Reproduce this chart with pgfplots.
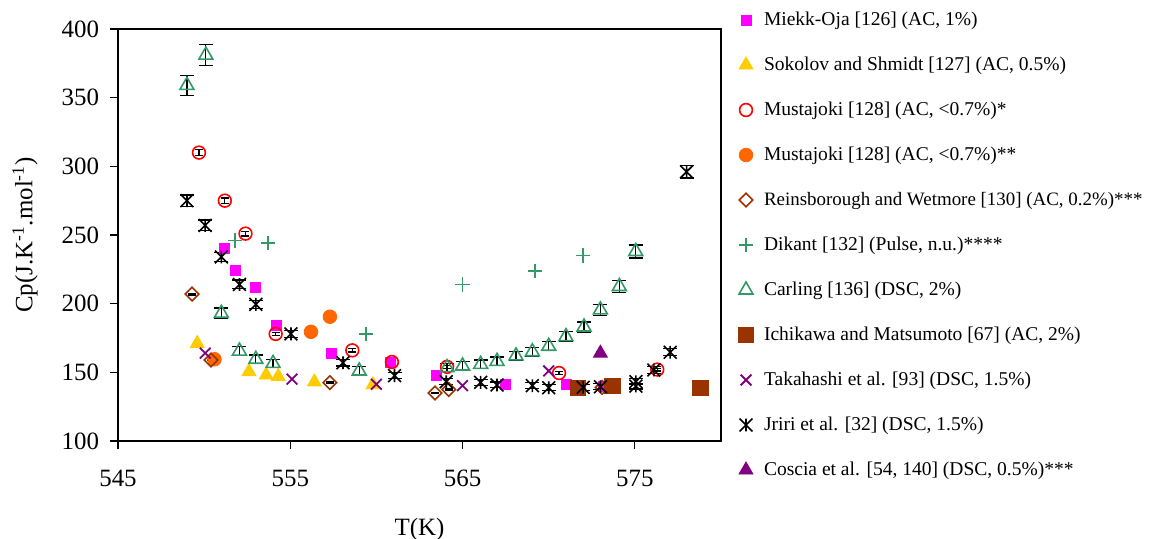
\documentclass[border=0pt]{standalone}
\usepackage{pgfplots}
\pgfplotsset{compat=1.18}
\usepackage{fontspec}
\setmainfont{Liberation Serif}
\definecolor{cMag}{HTML}{FF00FF}
\definecolor{cYel}{HTML}{FFCC00}
\definecolor{cRed}{HTML}{FF0000}
\definecolor{cOra}{HTML}{FF6600}
\definecolor{cBrn}{HTML}{993300}
\definecolor{cGrn}{HTML}{339966}
\definecolor{cPur}{HTML}{800080}
\pgfdeclareplotmark{xvert}{%
  \pgfpathmoveto{\pgfqpoint{-\pgfplotmarksize}{-\pgfplotmarksize}}%
  \pgfpathlineto{\pgfqpoint{\pgfplotmarksize}{\pgfplotmarksize}}%
  \pgfpathmoveto{\pgfqpoint{-\pgfplotmarksize}{\pgfplotmarksize}}%
  \pgfpathlineto{\pgfqpoint{\pgfplotmarksize}{-\pgfplotmarksize}}%
  \pgfpathmoveto{\pgfqpoint{0pt}{-\pgfplotmarksize}}%
  \pgfpathlineto{\pgfqpoint{0pt}{\pgfplotmarksize}}%
  \pgfusepathqstroke}
\pgfplotsset{eb/.style 2 args={error bars/.cd, y dir=both, y fixed relative=#1,
  error bar style={black,line width=0.6pt},
  error mark options={rotate=90,black,mark size=#2,line width=0.6pt}}}
\begin{document}
\begin{tikzpicture}
\path[use as bounding box] (-59bp,-49bp) rectangle (520bp,220.5bp);
\begin{axis}[
  scale only axis, width=301.5bp, height=206bp,
  at={(0,0)}, anchor=south west,
  xmin=545, xmax=580, ymin=100, ymax=400,
  xtick={545,555,565,575}, ytick={100,150,200,250,300,350,400},
  tick align=outside, xtick pos=bottom, ytick pos=left,
  major tick length=4bp,
  tick style={black, line width=0.6pt},
  axis line style={line width=0.8pt},
  clip=false,
  /pgf/number format/assume math mode=true,
  ticklabel style={font=\fontsize{12.5}{14}\selectfont},
  xticklabel style={yshift=-7bp},
  yticklabel style={xshift=-2bp},
  xlabel={T(K)}, ylabel={Cp(J.K\textsuperscript{-1}.mol\textsuperscript{-1})},
  every axis x label/.style={at={(axis description cs:0.5,0)}, yshift=-44.5bp, anchor=center, font=\fontsize{12.5}{14}\selectfont},
  every axis y label/.style={at={(axis description cs:0,0.5)}, xshift=-46.5bp, rotate=90, anchor=center, font=\fontsize{12.5}{14}\selectfont},
  legend cell align=left,
  legend style={draw=none, fill=none, inner sep=0pt, outer sep=0pt,
    at={(axis description cs:1,1)}, anchor=north west, xshift=6.5bp, yshift=9bp,
    font=\fontsize{9.8}{12}\selectfont,
    nodes={inner sep=0pt, text height=7bp, text depth=2bp},
    row sep=13.5bp, column sep=3bp},
  every axis plot post/.append style={legend image code/.code={\path[draw=none,fill=none] (0bp,-3bp) rectangle (12bp,3bp); \draw[##1] plot coordinates {(6bp,0bp)};}},
]
% Miekk-Oja
\addplot[only marks, mark=square*, mark size=2.5bp, color=cMag, eb={0.01}{2bp}] coordinates {
(551.2,240) (551.8,224) (553.0,212) (554.2,184) (557.4,164) (560.8,157) (563.5,148) (567.5,141) (571.0,141) (573.2,140)};
\addlegendentry{Miekk-Oja [126] (AC, 1\%)}
% Sokolov
\addplot[only marks, mark=triangle*, mark size=4bp, color=cYel, eb={0.005}{2bp}] coordinates {
(549.6,171) (552.6,150.5) (553.6,148) (554.3,147) (556.4,143) (559.8,141)};
\addlegendentry{Sokolov and Shmidt [127] (AC, 0.5\%)}
% Mustajoki *
\addplot[only marks, mark=o, mark size=3.2bp, color=cRed, mark options={line width=0.8pt}, eb={0.007}{2bp}] coordinates {
(549.7,310) (551.2,275) (552.4,251) (554.15,178) (558.6,166) (560.9,157.5) (564.1,154) (570.6,149.5) (576.3,152)};
\addlegendentry{Mustajoki [128] (AC, <0.7\%)*}
% Mustajoki **
\addplot[only marks, mark=*, mark size=3.4bp, color=cOra, eb={0.007}{2bp}] coordinates {
(550.6,159.5) (556.2,179.5) (557.3,190.5)};
\addlegendentry{Mustajoki [128] (AC, <0.7\%)**}
% Reinsborough
\addplot[only marks, mark=square, mark size=2.4bp, color=cBrn, mark options={line width=0.8pt, rotate=45}, eb={0.003}{2bp}] coordinates {
(549.3,207) (550.4,159) (557.3,142.5) (563.4,135) (564.2,137.5) (573.1,139)};
\addlegendentry{{\fontsize{9.5}{12}\selectfont Reinsborough and Wetmore [130] (AC, 0.2\%)***}}
% Dikant
\addplot[only marks, mark=+, mark size=3.6bp, color=cGrn, mark options={line width=0.9pt}] coordinates {
(551.8,246) (553.7,244) (559.4,178) (565.0,214) (569.2,224) (572.0,235)};
\addlegendentry{Dikant [132] (Pulse, n.u.)****}
% Carling
\addplot[only marks, mark=triangle, mark size=4bp, color=cGrn, mark options={line width=0.8pt}, eb={0.02}{3.5bp}] coordinates {
(549.0,359) (550.1,381) (551.0,193) (552.05,165.5) (553.0,159.5) (554.0,156.5) (559.0,151) (564.1,153.4) (565.0,154.6) (566.05,155.8) (567.0,158) (568.1,162) (569.05,165) (570.0,169) (571.0,176) (572.05,183) (573.0,195.5) (574.1,212.5) (575.05,238)};
\addlegendentry{Carling [136] (DSC, 2\%)}
% Ichikawa
\addplot[only marks, mark=square*, mark size=3.8bp, color=cBrn] coordinates {
(571.7,138.4) (573.7,140.3) (578.8,138.4)};
\addlegendentry{Ichikawa and Matsumoto [67] (AC, 2\%)}
% Takahashi
\addplot[only marks, mark=x, mark size=3.8bp, color=cPur, mark options={line width=0.9pt}] coordinates {
(550.06,164) (555.1,145) (560.0,141.3) (565.0,140.3) (570.0,151)};
\addlegendentry{Takahashi et al. [93] (DSC, 1.5\%)}
% Jriri
\addplot[only marks, mark=xvert, mark size=3.2bp, color=black, mark options={line width=0.8pt}, eb={0.015}{3.5bp}] coordinates {
(549.0,275) (550.06,257) (551.0,234) (552.05,214) (553.0,199.5) (555.04,178) (558.06,157) (561.05,147.6) (564.05,143.2) (566.05,142.7) (567.0,140.8) (569.05,140.3) (570.0,138.8) (572.0,139.1) (573.0,139.5) (575.06,143.2) (575.06,140) (576.1,151.7) (577.05,164.6) (578.0,296)};
\addlegendentry{Jriri et al. [32] (DSC, 1.5\%)}
% Coscia
\addplot[only marks, mark=triangle*, mark size=4bp, color=cPur, eb={0.005}{2bp}] coordinates {
(573.0,164)};
\addlegendentry{Coscia et al. [54, 140] (DSC, 0.5\%)***}
\end{axis}
\end{tikzpicture}
\end{document}
